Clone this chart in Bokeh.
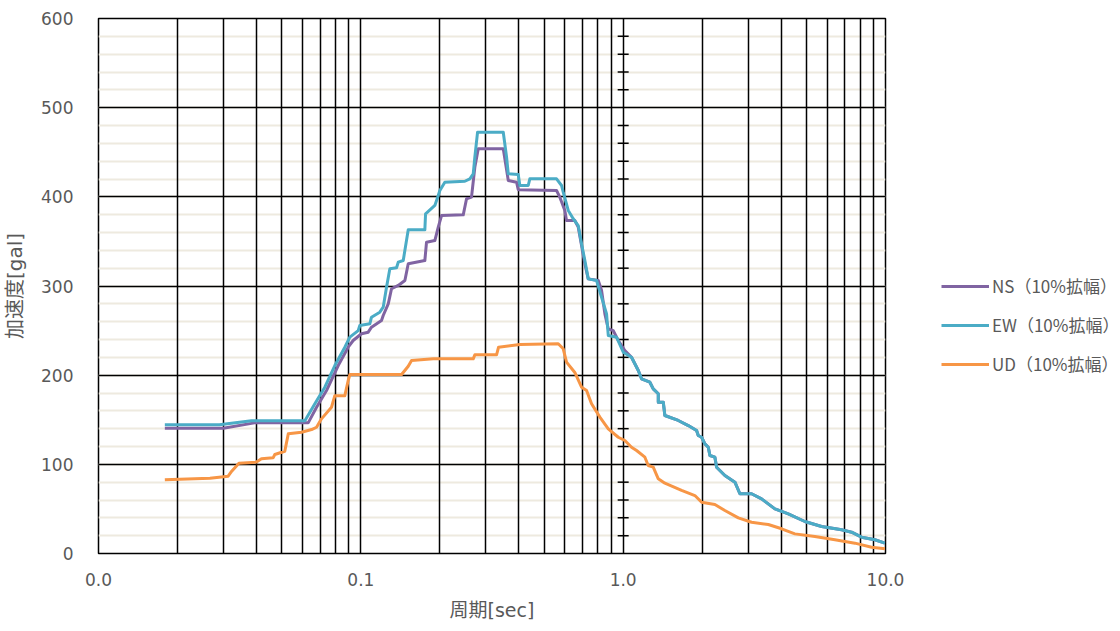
from bokeh.plotting import figure
from bokeh.models import Range1d, FixedTicker, PrintfTickFormatter, Legend, LegendItem
from bokeh.embed import file_html
from bokeh.resources import INLINE

# ---- data (period [sec], acceleration [gal]) ----
ns_period = [0.0179, 0.0299, 0.0393, 0.0630, 0.0678, 0.0740, 0.0820, 0.0895, 0.0935, 0.1006,
             0.1067, 0.1098, 0.1199, 0.1217, 0.1272, 0.1309, 0.1389, 0.1472, 0.1516, 0.1754,
             0.1780, 0.1915, 0.1973, 0.2031, 0.2457, 0.2529, 0.2642, 0.2720, 0.2803, 0.3491,
             0.3648, 0.3923, 0.3982, 0.5572, 0.5736, 0.5993, 0.6083, 0.6542, 0.6742, 0.6940,
             0.7145, 0.7360, 0.8037, 0.8274, 0.8517, 0.8774, 0.9168, 0.9579, 1.015,
             1.076, 1.142, 1.175, 1.264, 1.302, 1.361, 1.361, 1.422, 1.442, 1.622, 1.771,
             1.905, 1.933, 1.991, 2.049, 2.111, 2.141, 2.237, 2.271, 2.442, 2.667, 2.786,
             3.086, 3.370, 3.788, 4.260, 4.927, 5.708, 6.803, 7.428, 8.109, 9.111, 9.947]
ns_accel = [140.5, 140.5, 146.5, 146.5, 164.0, 182.8, 210.8, 231.4, 238.9, 246.4,
            248.2, 253.8, 261.3, 266.9, 280.0, 296.9, 300.6, 306.2, 324.9, 328.6,
            349.1, 351.0, 366.0, 379.0, 379.8, 397.8, 399.6, 433.2, 453.9, 453.9,
            418.3, 416.4, 407.9, 407.1, 399.6, 384.7, 373.4, 373.4, 366.0, 345.4,
            324.9, 308.0, 306.2, 295.0, 268.8, 252.0, 250.0, 238.9, 227.7,
            220.1, 205.2, 195.9, 192.1, 184.7, 179.1, 169.7, 169.7, 154.8, 149.2, 143.5,
            137.9, 132.3, 130.4, 123.0, 119.2, 109.9, 108.0, 96.8, 87.5, 80.0, 67.0,
            67.0, 61.3, 50.1, 44.5, 35.9, 30.3, 26.6, 23.9, 18.3, 15.4, 11.6]

ew_period = [0.0179, 0.0289, 0.0383, 0.0612, 0.0668, 0.0729, 0.0796, 0.0869, 0.0908, 0.0977,
             0.0991, 0.1082, 0.1098, 0.1181, 0.1217, 0.1253, 0.1290, 0.1368, 0.1389, 0.1451,
             0.1516, 0.1754, 0.1765, 0.1915, 0.1973, 0.2001, 0.2090, 0.2492, 0.2604, 0.2682,
             0.2720, 0.2786, 0.3491, 0.3594, 0.3648, 0.3982, 0.4038, 0.4346, 0.4408, 0.5572,
             0.5823, 0.5909, 0.6175, 0.6451, 0.6742, 0.6940, 0.7145, 0.7360, 0.7918, 0.8274,
             0.8644, 0.8774, 0.9436, 1.001, 1.076, 1.142, 1.175, 1.264, 1.302, 1.361,
             1.361, 1.422, 1.442, 1.622, 1.771, 1.905, 1.933, 1.991, 2.049, 2.111,
             2.141, 2.237, 2.271, 2.442, 2.667, 2.786, 3.086, 3.370, 3.788, 4.260,
             4.927, 5.708, 6.803, 7.428, 8.109, 9.111, 9.947]
ew_accel = [144.3, 144.3, 149.0, 149.0, 167.9, 186.5, 210.8, 231.4, 242.6, 250.0,
            255.7, 257.6, 265.0, 270.6, 276.2, 298.6, 319.3, 320.4, 326.7, 328.6,
            363.0, 363.0, 381.0, 390.3, 401.5, 407.0, 416.4, 417.5, 420.2, 425.8,
            444.4, 472.5, 472.5, 444.4, 425.8, 425.0, 412.7, 412.7, 420.2, 420.2,
            412.7, 405.2, 384.7, 375.4, 367.8, 347.3, 328.6, 308.0, 306.2, 287.4,
            268.8, 244.5, 242.6, 225.7, 220.1, 205.2, 195.9, 192.1, 184.7, 179.1,
            169.7, 169.7, 154.8, 149.2, 143.5, 137.9, 132.3, 130.4, 123.0, 119.2,
            109.9, 108.0, 96.8, 87.5, 80.0, 67.0, 67.0, 61.3, 50.1, 44.5,
            35.9, 30.3, 26.6, 23.9, 18.3, 15.4, 11.6]

ud_period = [0.0179, 0.0266, 0.0312, 0.0322, 0.0343, 0.0400, 0.0418, 0.0463, 0.0470, 0.0513,
             0.0529, 0.0594, 0.0649, 0.0678, 0.0708, 0.0773, 0.0796, 0.0869, 0.0895, 0.0908,
             0.1430, 0.1516, 0.1561, 0.1888, 0.2682, 0.2720, 0.3291, 0.3350, 0.4038, 0.5656,
             0.5909, 0.6083, 0.6542, 0.6940, 0.7253, 0.7577, 0.8151, 0.8774, 0.9579, 1.015,
             1.076, 1.125, 1.210, 1.246, 1.302, 1.361, 1.442, 1.670, 1.877, 1.991,
             2.237, 2.442, 2.748, 3.086, 3.575, 4.017, 4.514, 5.381, 6.415, 7.645,
             8.851, 9.947]
ud_accel = [82.6, 84.5, 86.7, 92.3, 101.3, 102.5, 106.2, 107.3, 111.0, 114.7,
            134.2, 136.0, 139.0, 141.6, 151.0, 164.0, 177.0, 177.0, 194.0, 200.7,
            200.7, 210.0, 216.4, 218.3, 218.3, 222.8, 222.8, 231.4, 234.4, 235.2,
            229.6, 214.6, 203.0, 186.5, 182.8, 167.9, 152.9, 139.8, 130.4, 126.7,
            119.2, 115.5, 108.0, 98.7, 96.8, 83.8, 78.8, 70.7, 65.0, 57.5,
            55.0, 48.2, 40.0, 35.1, 32.5, 27.7, 22.0, 19.0, 15.4, 11.6,
            7.1, 5.3]

series_names = ["NS（10%拡幅）", "EW（10%拡幅）", "UD（10%拡幅）"]
series_colors = ["#8064A2", "#4BACC6", "#F79646"]

x_major = [0.01, 0.1, 1.0, 10.0]
x_minor = [m * d for d in (0.01, 0.1, 1.0) for m in range(2, 10)]
y_major = list(range(0, 601, 100))
y_minor = list(range(20, 600, 20))
cross_ticks = [v for v in y_minor if v % 100 != 0]

FONT = "'DejaVu Sans', 'Noto Sans CJK JP', sans-serif"
CJK = "'Noto Sans CJK JP', sans-serif"
TXT = "#595959"

p = figure(x_axis_type="log", x_range=Range1d(0.01, 10), y_range=Range1d(0, 600),
           frame_width=787, frame_height=535,
           min_border_left=89, min_border_right=228, min_border_top=18, min_border_bottom=66,
           output_backend="svg", toolbar_location=None,
           x_axis_label="周期[sec]", y_axis_label="加速度[gal]")
p.background_fill_color = "white"
p.border_fill_color = "white"
p.outline_line_color = "black"
p.outline_line_width = 1.5

# grids
p.xaxis.ticker = FixedTicker(ticks=x_major, minor_ticks=x_minor)
p.yaxis.ticker = FixedTicker(ticks=y_major, minor_ticks=y_minor)
p.xgrid.ticker = p.xaxis.ticker
p.ygrid.ticker = p.yaxis.ticker
p.xgrid.grid_line_color = "black"
p.xgrid.grid_line_width = 1.5
p.xgrid.minor_grid_line_color = "black"
p.xgrid.minor_grid_line_width = 1.5
p.ygrid.grid_line_color = "black"
p.ygrid.grid_line_width = 1.5
p.ygrid.minor_grid_line_color = "#EEEADF"
p.ygrid.minor_grid_line_width = 2
xg = p.xgrid[0]
yg = p.ygrid[0]
p.center = [yg, xg] + [r for r in p.center if r is not xg and r is not yg]

# axes
p.xaxis.formatter = PrintfTickFormatter(format="%.1f")
for ax in (p.xaxis[0], p.yaxis[0]):
    ax.axis_line_color = None
    ax.major_tick_line_color = None
    ax.minor_tick_line_color = None
    ax.major_label_text_font = FONT
    ax.major_label_text_font_size = "17px"
    ax.major_label_text_color = TXT
    ax.axis_label_text_font = FONT
    ax.axis_label_text_font_size = "19px"
    ax.axis_label_text_color = TXT
    ax.axis_label_text_font_style = "normal"
p.xaxis.major_label_standoff = 13
p.xaxis.axis_label_standoff = 10
p.yaxis.major_label_standoff = 19
p.yaxis.axis_label_standoff = 11
p.yaxis.axis_label_text_font_size = "20px"

# cross ticks of the value axis at T = 1.0
p.scatter(x=[1.0] * len(cross_ticks), y=cross_ticks, marker="dash", size=11,
          line_color="black", line_width=1.5)

renderers = []
for xs, ys, c in ((ns_period, ns_accel, series_colors[0]),
                  (ew_period, ew_accel, series_colors[1]),
                  (ud_period, ud_accel, series_colors[2])):
    r = p.line(xs, ys, line_color=c, line_width=3, line_join="round")
    renderers.append(r)

legend = Legend(items=[LegendItem(label=n, renderers=[r]) for n, r in zip(series_names, renderers)],
                location=(56, 177), orientation="vertical",
                glyph_width=48, glyph_height=20, label_height=20, label_standoff=3,
                spacing=14, padding=0, margin=0,
                border_line_color=None, background_fill_alpha=0,
                label_text_font=CJK, label_text_font_size="17px", label_text_color=TXT)
p.add_layout(legend, "right")

open("out.html", "w").write(file_html(p, INLINE))
